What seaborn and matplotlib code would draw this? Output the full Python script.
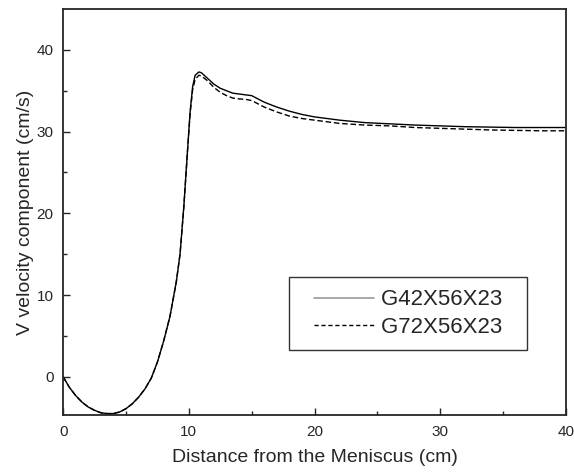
import numpy as np
import pandas as pd
import seaborn as sns
import matplotlib.pyplot as plt
from matplotlib.lines import Line2D
from matplotlib.legend_handler import HandlerLine2D

# distance from meniscus (cm) and V velocity (cm/s)
x_g42 = [0, 0.5, 1, 1.5, 2, 2.5, 3, 3.5, 4, 4.5, 5, 5.5, 6, 6.5, 7, 7.5, 8, 8.5, 9, 9.3, 9.6,
         9.9, 10.1, 10.3, 10.5, 10.8, 11, 11.5, 12, 12.5, 13, 13.5, 14, 14.5, 15, 15.5, 16, 17,
         18, 19, 20, 22, 24, 26, 28, 30, 32, 34, 36, 38, 40]
v_g42 = [0, -1.3, -2.3, -3.1, -3.7, -4.1, -4.4, -4.5, -4.5, -4.3, -3.9, -3.3, -2.5, -1.5, -0.2,
         1.8, 4.4, 7.4, 11.6, 15.0, 20.8, 27.8, 32.4, 35.5, 36.9, 37.3, 37.2, 36.5, 35.8, 35.3,
         35.0, 34.7, 34.6, 34.5, 34.4, 34.0, 33.6, 33.0, 32.5, 32.1, 31.8, 31.4, 31.1, 30.95,
         30.8, 30.7, 30.6, 30.55, 30.5, 30.5, 30.5]
x_g72 = x_g42
v_g72 = [0, -1.3, -2.3, -3.1, -3.7, -4.1, -4.4, -4.5, -4.5, -4.3, -3.9, -3.3, -2.5, -1.5, -0.2,
         1.8, 4.4, 7.4, 11.6, 15.0, 20.8, 27.8, 32.2, 35.1, 36.4, 36.9, 36.8, 36.2, 35.4, 34.8,
         34.4, 34.1, 34.0, 33.95, 33.8, 33.4, 33.0, 32.4, 31.9, 31.6, 31.4, 31.0, 30.8, 30.7,
         30.5, 30.4, 30.3, 30.2, 30.15, 30.1, 30.1]
labels = ['G42X56X23', 'G72X56X23']

df = pd.concat([
    pd.DataFrame({'x': x_g42, 'v': v_g42, 'grid': labels[0]}),
    pd.DataFrame({'x': x_g72, 'v': v_g72, 'grid': labels[1]}),
])

sns.set_style('ticks')
plt.rcParams['font.family'] = ['Liberation Sans', 'DejaVu Sans']

fig = plt.figure(figsize=(5.74, 4.74), dpi=100)
ax = fig.add_axes([0.11, 0.124, 0.876, 0.857])

sns.lineplot(data=df, x='x', y='v', style='grid', dashes={labels[0]: '', labels[1]: (4, 2)},
             color='black', linewidth=1.0, legend=False, ax=ax)

ax.set_xlim(0, 40)
ax.set_ylim(-4.7, 45)
ax.set_xticks([0, 10, 20, 30, 40])
ax.set_yticks([0, 10, 20, 30, 40])
ax.set_xticks([5, 15, 25, 35], minor=True)
ax.set_yticks([5, 15, 25, 35], minor=True)
ax.tick_params(direction='in', which='major', length=5, width=1, labelsize=11, pad=7)
ax.tick_params(direction='in', which='minor', length=3, width=1)
for s in ax.spines.values():
    s.set_linewidth(1.3)
ax.set_xlabel('Distance from the Meniscus (cm)', fontsize=14, labelpad=7)
ax.set_ylabel('V velocity component (cm/s)', fontsize=14, labelpad=2)

handles = [Line2D([], [], color='#999999', linewidth=1.2),
           Line2D([], [], color='black', linewidth=1.0, linestyle=(0, (3, 2)))]
leg = ax.legend(handles, [l + '  ' for l in labels], loc='lower right',
                bbox_to_anchor=(0.922, 0.160), borderaxespad=0, fontsize=16, frameon=True,
                fancybox=False, edgecolor='black', handlelength=3.3, handletextpad=0.3,
                borderpad=0.55, labelspacing=0.3,
                handler_map={Line2D: HandlerLine2D(xpad=0.6)})
leg.get_frame().set_linewidth(1.0)

fig.savefig('out.png', dpi=100)
